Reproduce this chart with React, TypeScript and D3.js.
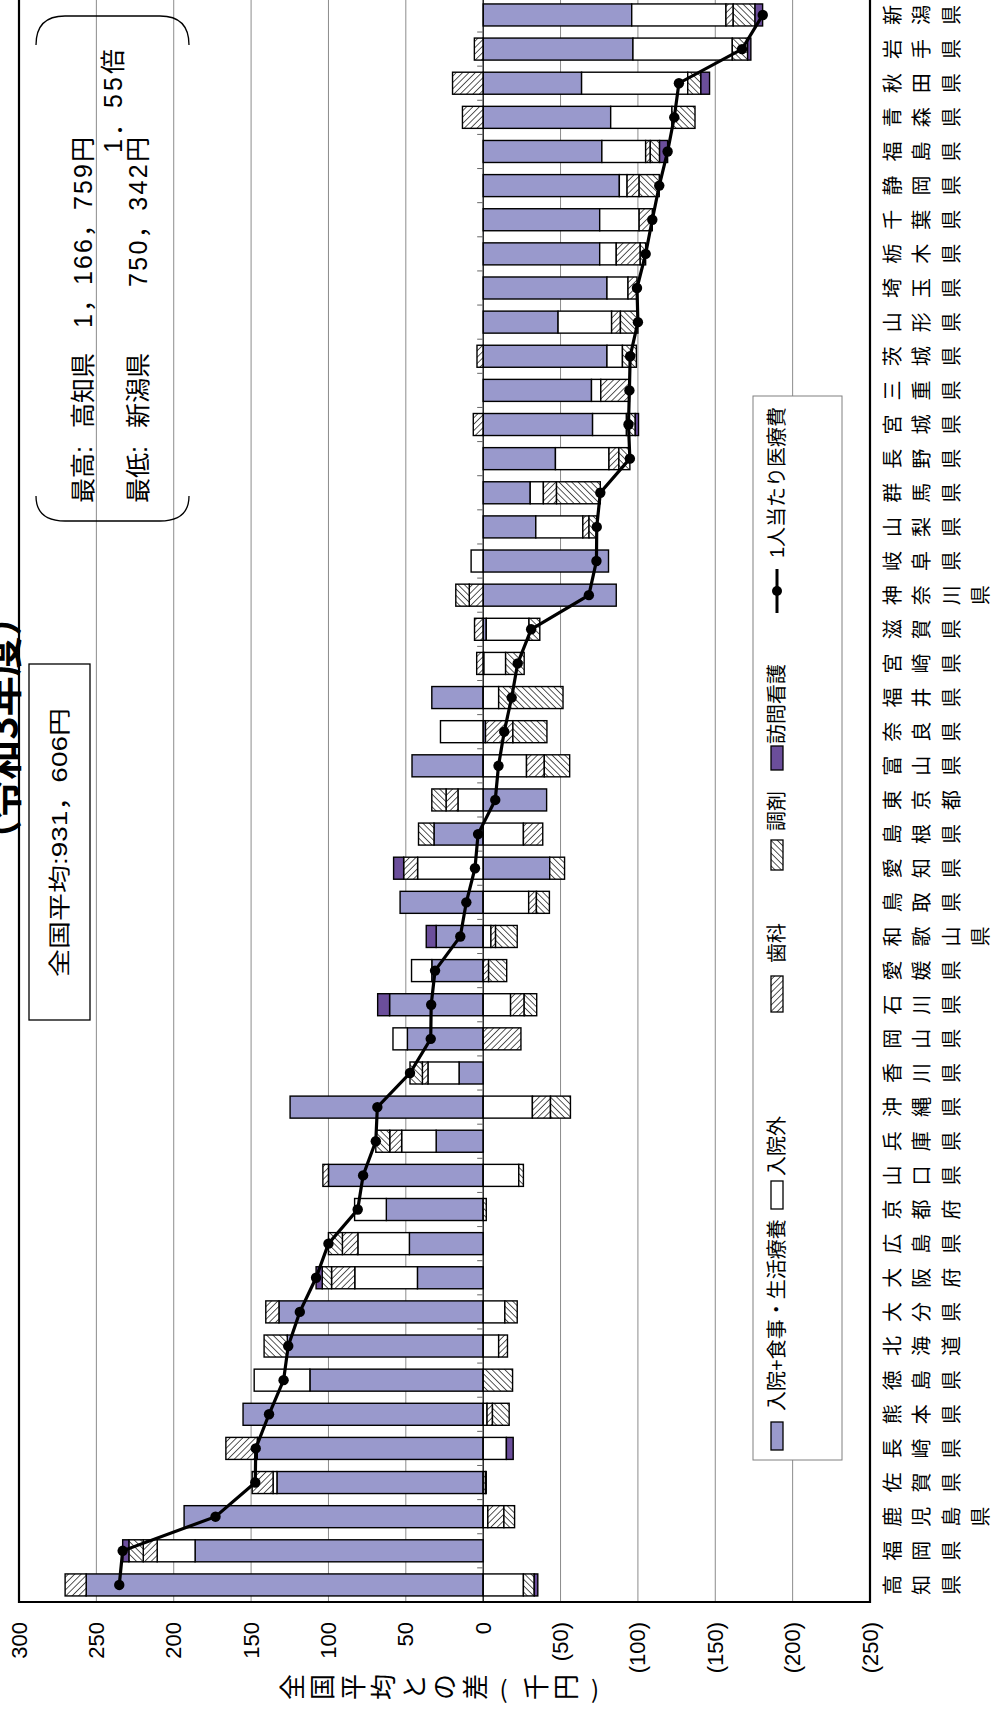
import React from "react";
import * as d3 from "d3";

// categories from bottom (highest) to top (lowest)
const prefectures = [
  "高知県","福岡県","鹿児島県","佐賀県","長崎県","熊本県","徳島県","北海道","大分県","大阪府",
  "広島県","京都府","山口県","兵庫県","沖縄県","香川県","岡山県","石川県","愛媛県","和歌山県",
  "鳥取県","愛知県","島根県","東京都","富山県","奈良県","福井県","宮崎県","滋賀県","神奈川県",
  "岐阜県","山梨県","群馬県","長野県","宮城県","三重県","茨城県","山形県","埼玉県","栃木県",
  "千葉県","静岡県","福島県","青森県","秋田県","岩手県","新潟県"
];
// differences from national average (thousand yen)
const inpatient = [256.6,186.2,193.3,133.3,146,155.2,112,126.6,132,42.5,47.7,62.6,100,30.4,124.8,15.6,49,60.5,33.2,30.4,53.7,-43,31.8,-41,46,-1.5,33.2,-0.5,-2,-86,-81,-34,-30.4,-46.7,-70.7,-70,-80,-48.4,-80,-75.3,-75.3,-88,-76.7,-82.4,-63.6,-96.8,-96];
const outpatient = [-26,24.5,-3,2.5,-15,-2.5,36,-10,-14,40.5,33.3,20.5,-23,22.3,-31.8,20.1,9.3,-17.7,13.1,-5,-29.4,42.4,-26,16.3,-28,27.6,-10,-14,-27.6,0,7.8,-30.4,-8.5,-34.6,-21.9,-6,-10,-34.6,-13.6,-10.7,-25.5,-5,-28.3,-39.6,-68.6,-64.2,-60.9];
const dental = [13.6,9,-10.4,13.5,20.3,-3.5,0,-5.7,8.5,15,10,0,3.6,7.7,-11.7,3.6,-24.4,-8.8,-3.5,-3,-5,9,-12.5,7.7,-11.5,-17.7,0,4.2,5.6,9,0,-4,-8.5,-6.4,6.4,-18.5,4,-5.7,-5.8,-15.5,-8.5,-7.8,-3,13.4,19.8,5.7,-4.7];
const pharmacy = [-7,9.3,-6.9,-1.5,0,-10.8,-19,15,-8,6,9,-2,-3,9,-12.9,8,0,-8.1,-11.7,-14,-8.4,-9.6,10,9.2,-16.4,-22,-41.6,-12,-7,8.7,0,-5,-28.3,-7.1,-5.7,0,-9,-11.3,0,-3.5,0,-13,-6,-14.9,-8.5,-9.9,-14.1];
const homeNursing = [-2.3,4,0,-0.5,-4.4,0,0,0,0,4,0,0,0,0,0,0,0,7.7,0,6.4,0,6.5,0,0,0,0,0,0,0,0,0,0,0,0,-2.1,0,0,0,0,0,0,0,-5.2,0,-5.6,-2.1,-4.9];
const totalDiff = [235.2,233,173,147.3,147,138.4,129,126,118.5,108,100,81.1,77.6,69.4,68.4,47.3,33.9,33.6,31.1,14.8,10.9,5.3,3.3,-7.8,-9.9,-13.6,-18.4,-22.3,-31,-68.3,-73.2,-73.4,-75.7,-94.8,-93.9,-94.5,-95,-100,-99.4,-105,-109.3,-113.8,-119.2,-123.5,-126.5,-167.3,-180.7];

const valueTicks = [300,250,200,150,100,50,0,-50,-100,-150,-200,-250];
const seriesKeys = ["inpatient","outpatient","dental","pharmacy","homeNursing"];
const seriesNames = ["入院+食事・生活療養","入院外","歯科","調剤","訪問看護"];
const lineName = "1人当たり医療費";
const axisTitle = "全国平均との差(千円)";
const titleText = "（令和3年度）";
const averageText = "全国平均:931，606円";

const W = 996, H = 1718;
const PL = 19, PR = 870, PB = 1602;
const STEP = 34.13;
const FONT = "'Liberation Sans', Arial, 'Noto Sans CJK JP', sans-serif";
const CJK = "'Noto Sans CJK JP', sans-serif";

const fills = ["#9999CC", "#FFFFFF", "url(#hDental)", "url(#hPharm)", "#6B4E9B"];

function tickLabel(v: number) {
  return v < 0 ? `(${-v})` : `${v}`;
}

export default function App() {
  const x = d3.scaleLinear().domain([300, -250]).range([PL, PR]);
  const y = d3
    .scaleBand<string>()
    .domain([...prefectures].reverse())
    .range([PB - prefectures.length * STEP, PB])
    .paddingInner(0.355)
    .paddingOuter(0.1775);
  const bw = y.bandwidth();
  const cy = (p: string) => (y(p) as number) + bw / 2;

  const rows = prefectures.map((p, i) => ({
    pref: p,
    inpatient: inpatient[i],
    outpatient: outpatient[i],
    dental: dental[i],
    pharmacy: pharmacy[i],
    homeNursing: homeNursing[i],
  }));
  const stacked = d3
    .stack<any>()
    .keys(seriesKeys)
    .offset(d3.stackOffsetDiverging)(rows);

  const linePath = d3
    .line<number>()
    .x((d) => x(d))
    .y((_, i) => cy(prefectures[i]))(totalDiff) as string;

  const top = PB - prefectures.length * STEP;

  return (
    <svg
      width={W}
      height={H}
      viewBox={`0 0 ${W} ${H}`}
      style={{ position: "absolute", left: 0, top: 0, background: "#fff" }}
      fontFamily={FONT}
    >
      <defs>
        <pattern id="hDental" width="4.5" height="4.5" patternUnits="userSpaceOnUse" patternTransform="rotate(45)">
          <rect width="4.5" height="4.5" fill="#fff" />
          <line x1="0" y1="0" x2="0" y2="4.5" stroke="#3a3a3a" strokeWidth="1.7" />
        </pattern>
        <pattern id="hPharm" width="4.5" height="4.5" patternUnits="userSpaceOnUse" patternTransform="rotate(-45)">
          <rect width="4.5" height="4.5" fill="#fff" />
          <line x1="0" y1="0" x2="0" y2="4.5" stroke="#3a3a3a" strokeWidth="1.7" />
        </pattern>
      </defs>
      <rect x={0} y={0} width={W} height={H} fill="#fff" />

      {/* title (partially off-page) */}
      <text
        transform={`translate(17, 728) rotate(-90)`}
        textAnchor="middle"
        fontSize={40}
        fontWeight="bold"
        fontFamily={CJK}
      >
        {titleText}
      </text>

      {/* gridlines */}
      {valueTicks
        .filter((t) => t !== 0 && t !== 300 && t !== -250)
        .map((t) => (
          <line key={t} x1={x(t)} x2={x(t)} y1={0} y2={PB} stroke="#8c8c8c" strokeWidth={1} />
        ))}

      {/* average box */}
      <rect x={29} y={664} width={61} height={356} fill="#fff" stroke="#000" strokeWidth={1.3} />
      <text
        transform={`translate(59, 977) rotate(-90)`}
        fontSize={22}
        dominantBaseline="central"
        textLength={269}
        lengthAdjust="spacingAndGlyphs"
      >
        {averageText}
      </text>

      {/* max/min bracket */}
      <path d="M36,45 Q36,16 65,16 L160,16 Q189,16 189,45" fill="none" stroke="#000" strokeWidth={1.3} />
      <path d="M36,496 Q36,521 65,521 L160,521 Q189,521 189,496" fill="none" stroke="#000" strokeWidth={1.3} />
      <g fontSize={25}>
        <text transform="translate(83,503) rotate(-90)" dominantBaseline="central">最高:</text>
        <text transform="translate(83,428) rotate(-90)" dominantBaseline="central">高知県</text>
        <text transform="translate(83,328) rotate(-90)" dominantBaseline="central" textLength={191} lengthAdjust="spacing">1，166，759円</text>
        <text transform="translate(138,503) rotate(-90)" dominantBaseline="central">最低:</text>
        <text transform="translate(138,428) rotate(-90)" dominantBaseline="central">新潟県</text>
        <text transform="translate(138,287) rotate(-90)" dominantBaseline="central" textLength={150} lengthAdjust="spacing">750，342円</text>
        <text transform="translate(113,153) rotate(-90)" dominantBaseline="central" textLength={104} lengthAdjust="spacing">1．55倍</text>
      </g>

      {/* bars */}
      {stacked.map((s, si) =>
        s.map((d, i) => {
          const x0 = x(d[0]);
          const x1 = x(d[1]);
          if (Math.abs(x1 - x0) < 0.01) return null;
          return (
            <rect
              key={`${si}-${i}`}
              x={Math.min(x0, x1)}
              y={y(prefectures[i])}
              width={Math.abs(x1 - x0)}
              height={bw}
              fill={fills[si]}
              stroke="#000"
              strokeWidth={1.4}
            />
          );
        })
      )}

      {/* zero axis with category ticks */}
      <line x1={x(0)} x2={x(0)} y1={0} y2={PB} stroke="#000" strokeWidth={1.3} />
      {prefectures.map((p, i) => (
        <line key={p} x1={x(0) - 6} x2={x(0)} y1={PB - i * STEP} y2={PB - i * STEP} stroke="#666" strokeWidth={1} />
      ))}

      {/* total line */}
      <path d={linePath} fill="none" stroke="#000" strokeWidth={3.2} />
      {totalDiff.map((v, i) => (
        <circle key={i} cx={x(v)} cy={cy(prefectures[i])} r={5.2} fill="#000" />
      ))}

      {/* plot border */}
      <path d={`M${PL},${top} L${PL},${PB} L${PR},${PB} L${PR},${top}`} fill="none" stroke="#000" strokeWidth={2.2} />

      {/* value tick labels */}
      {valueTicks.map((t) => (
        <text
          key={t}
          transform={`translate(${x(t)}, 1622) rotate(-90)`}
          textAnchor="end"
          dominantBaseline="central"
          fontSize={22}
        >
          {tickLabel(t)}
        </text>
      ))}

      {/* axis title: vertical-writing glyphs rotated */}
      {axisTitle.split("").map((ch, k) => {
        const cx0 = 290 + k * 30.5;
        if (ch === "(" || ch === ")") {
          return (
            <text key={k} x={cx0} y={1687} textAnchor="middle" dominantBaseline="central" fontSize={24} fontFamily={CJK}>
              {ch}
            </text>
          );
        }
        return (
          <text
            key={k}
            transform={`translate(${cx0},1687) rotate(-90)`}
            textAnchor="middle"
            dominantBaseline="central"
            fontSize={26}
            fontFamily={CJK}
          >
            {ch}
          </text>
        );
      })}

      {/* category labels: vertical-writing glyphs rotated */}
      {prefectures.map((p) =>
        p.split("").map((ch, k) => (
          <text
            key={p + k}
            transform={`translate(${891 + k * 29.5}, ${cy(p)}) rotate(-90)`}
            textAnchor="middle"
            dominantBaseline="central"
            fontSize={20}
            fontFamily={CJK}
          >
            {ch}
          </text>
        ))
      )}

      {/* legend */}
      <rect x={753} y={396} width={89} height={1064} fill="#fff" stroke="#808080" strokeWidth={1} />
      {(() => {
        const items = [
          { sw: [1422, 1450], tx: 1411 },
          { sw: [1181, 1209], tx: 1176 },
          { sw: [976, 1012], tx: 963 },
          { sw: [840, 870], tx: 831 },
          { sw: [746, 770], tx: 744 },
        ];
        return items.map((it, k) => (
          <g key={k}>
            <rect x={771} y={it.sw[0]} width={12} height={it.sw[1] - it.sw[0]} fill={fills[k]} stroke="#000" strokeWidth={1.3} />
            <text transform={`translate(777, ${it.tx}) rotate(-90)`} dominantBaseline="central" fontSize={20}>
              {seriesNames[k]}
            </text>
          </g>
        ));
      })()}
      <line x1={777} x2={777} y1={569} y2={613} stroke="#000" strokeWidth={3} />
      <circle cx={777} cy={591} r={5} fill="#000" />
      <text transform={`translate(777, 558) rotate(-90)`} dominantBaseline="central" fontSize={20}>
        {lineName}
      </text>
    </svg>
  );
}
